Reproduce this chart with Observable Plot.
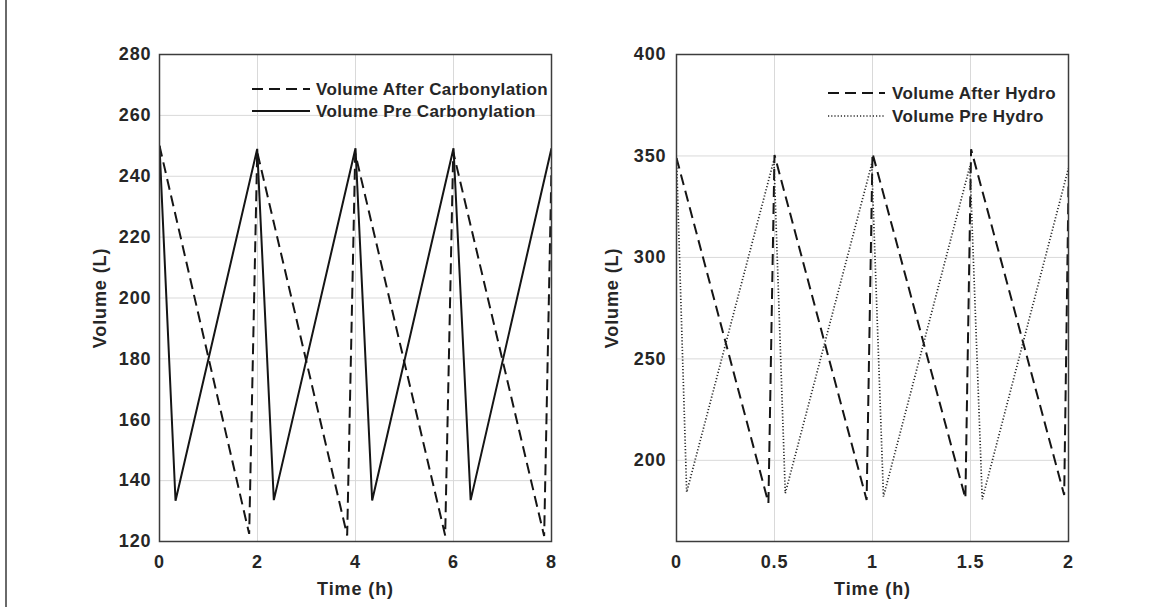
<!DOCTYPE html>
<html>
<head>
<meta charset="utf-8">
<script src="https://cdn.jsdelivr.net/npm/d3@7"></script>
<script src="https://cdn.jsdelivr.net/npm/@observablehq/plot@0.6"></script>
<style>
  body { margin: 0; background: #fff; }
  #wrap { position: relative; width: 1167px; height: 607px; overflow: hidden; background: #fff; }
  .panel { position: absolute; top: 0; }
  .edge { position: absolute; left: 5px; top: 0; width: 2px; height: 607px; background: #6a6a6a; }
  #legend { position: absolute; left: 0; top: 0; pointer-events: none; }
</style>
</head>
<body>
<div id="wrap"><div class="edge"></div></div>
<script>
// ---------- Data: left panel (Carbonylation) ----------
const carbXTicks = [0, 2, 4, 6, 8];
const carbYTicks = [120, 140, 160, 180, 200, 220, 240, 260, 280];
const carbAfterTime = [0, 1.83, 1.994, 3.83, 3.994, 5.83, 5.994, 7.85, 8];
const carbAfterVol  = [250, 122.5, 248, 122, 247.5, 122, 248, 121.8, 243];
const carbPreTime   = [0, 0.327, 1.994, 2.333, 4, 4.34, 6, 6.35, 8];
const carbPreVol    = [250, 133.4, 249, 133.6, 249.2, 133.5, 249.2, 133.6, 249.2];

// ---------- Data: right panel (Hydro) ----------
const hydroXTicks = [0, 0.5, 1, 1.5, 2];
const hydroYTicks = [200, 250, 300, 350, 400];
const hydroAfterTime = [0, 0.469, 0.5, 0.97, 1.0, 1.474, 1.503, 1.978, 2.0];
const hydroAfterVol  = [349, 179, 350.5, 180.5, 351.3, 181.3, 353.3, 182.9, 335];
const hydroPreTime   = [0, 0.052, 0.497, 0.555, 0.996, 1.056, 1.497, 1.56, 2.0];
const hydroPreVol    = [349, 184.3, 348, 183.8, 346, 182.1, 345, 180.8, 344];

// ---------- Labels ----------
const xLabel = "Time (h)";
const yLabel = "Volume (L)";
const carbLegend = ["Volume After Carbonylation", "Volume Pre Carbonylation"];
const hydroLegend = ["Volume After Hydro", "Volume Pre Hydro"];

const FONT = "'Liberation Sans', Arial, Helvetica, sans-serif";
const INK = "#262626";
const fmt = d => String(d);

function toRows(t, v) { return t.map((x, i) => ({t: x, v: v[i]})); }

function panel(o) {
  return Plot.plot({
    width: o.width,
    height: 607,
    marginLeft: o.marginLeft,
    marginRight: o.marginRight,
    marginTop: 54,
    marginBottom: 66,
    style: `font-family: ${FONT}; font-size: 18px; font-weight: bold; letter-spacing: 0.9px; color: ${INK}; background: transparent; overflow: visible;`,
    x: {domain: o.xDomain},
    y: {domain: o.yDomain},
    marks: [
      Plot.gridX(o.xTicks, {stroke: "#d9d9d9", strokeOpacity: 1, strokeWidth: 1}),
      Plot.gridY(o.yTicks, {stroke: "#d9d9d9", strokeOpacity: 1, strokeWidth: 1}),
      ...o.series.map(s => Plot.line(toRows(s.t, s.v), {
        x: "t", y: "v", stroke: s.color, strokeWidth: s.width,
        strokeDasharray: s.dash, strokeLinecap: "butt", strokeLinejoin: "miter", clip: true
      })),
      Plot.frame({stroke: "#3c3c3c", strokeWidth: 1.5}),
      Plot.axisX(o.xTicks, {tickSize: 0, tickPadding: 14, tickFormat: fmt, label: xLabel, labelAnchor: "center", labelOffset: 53, labelArrow: "none"}),
      Plot.axisY(o.yTicks, {tickSize: 0, tickPadding: o.yPad, tickFormat: fmt, label: yLabel, labelAnchor: "center", labelOffset: o.yLabelOffset, labelArrow: "none"})
    ]
  });
}

const wrap = document.getElementById("wrap");

const left = panel({
  width: 580, marginLeft: 159, marginRight: 29,
  xDomain: [0, 8], yDomain: [120, 280],
  xTicks: carbXTicks, yTicks: carbYTicks, yPad: 8, yLabelOffset: 66,
  series: [
    {t: carbAfterTime, v: carbAfterVol, color: "#151515", width: 2, dash: "11,6"},
    {t: carbPreTime, v: carbPreVol, color: "#151515", width: 2, dash: null}
  ]
});
left.classList.add("panel");
left.style.left = "0px";
wrap.appendChild(left);

const right = panel({
  width: 587, marginLeft: 96, marginRight: 99,
  xDomain: [0, 2], yDomain: [160, 400],
  xTicks: hydroXTicks, yTicks: hydroYTicks, yPad: 10, yLabelOffset: 71,
  series: [
    {t: hydroAfterTime, v: hydroAfterVol, color: "#151515", width: 2, dash: "11,6"},
    {t: hydroPreTime, v: hydroPreVol, color: "#2a2a2a", width: 1.7, dash: "1.2,2"}
  ]
});
right.classList.add("panel");
right.style.left = "580px";
wrap.appendChild(right);

// ---------- Legends ----------
const svg = d3.select(wrap).append("svg")
  .attr("id", "legend").attr("width", 1167).attr("height", 607);

function legend(entries, styles, x0, x1, xt, ys) {
  entries.forEach((label, i) => {
    const s = styles[i];
    svg.append("line")
      .attr("x1", x0).attr("x2", x1).attr("y1", ys[i]).attr("y2", ys[i])
      .attr("stroke", s.color).attr("stroke-width", s.width)
      .attr("stroke-dasharray", s.dash || null);
    svg.append("text")
      .attr("x", xt).attr("y", ys[i]).attr("dy", "0.35em")
      .attr("fill", INK)
      .style("font-family", FONT).style("font-size", "17px").style("font-weight", "bold")
      .style("letter-spacing", "0.35px")
      .text(label);
  });
}
legend(carbLegend,
  [{color: "#151515", width: 2, dash: "11,6"}, {color: "#151515", width: 2, dash: null}],
  252, 310, 316, [89, 111]);
legend(hydroLegend,
  [{color: "#151515", width: 2, dash: "11,6"}, {color: "#2a2a2a", width: 1.7, dash: "1.2,2"}],
  828, 885, 892, [93, 116]);
</script>
</body>
</html>
